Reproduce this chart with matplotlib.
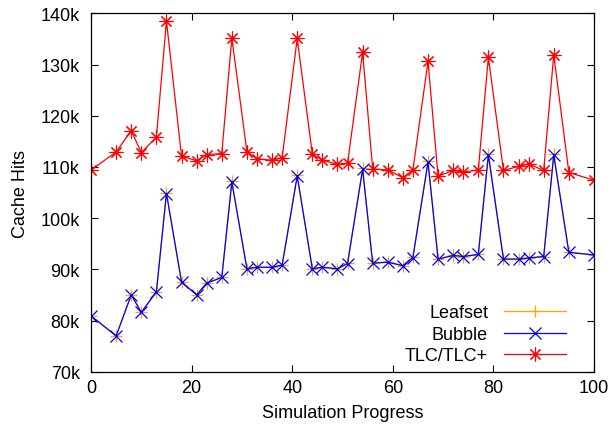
import matplotlib
matplotlib.use("Agg")
import matplotlib.pyplot as plt

plt.rcParams['font.family'] = ['Liberation Sans', 'DejaVu Sans']
plt.rcParams['font.size'] = 13

progress = [0, 5, 8, 10, 13, 15, 18, 21, 23, 26, 28, 31, 33, 36, 38, 41, 44, 46, 49, 51,
            54, 56, 59, 62, 64, 67, 69, 72, 74, 77, 79, 82, 85, 87, 90, 92, 95, 100]

leafset = [80.9, 77.0, 85.0, 81.6, 85.6, 105.0, 87.5, 85.0, 87.3, 88.4, 107.3, 90.1, 90.4, 90.4, 90.8,
           108.5, 90.1, 90.4, 90.1, 91.2, 109.7, 91.2, 91.4, 90.7, 92.5, 111.1, 92.0, 92.7, 92.5, 92.9,
           112.6, 92.0, 92.0, 92.2, 92.5, 112.6, 93.4, 92.8]
bubble = [80.9, 77.0, 85.0, 81.6, 85.6, 104.8, 87.5, 85.0, 87.3, 88.4, 107.0, 90.1, 90.4, 90.4, 90.8,
          108.2, 90.1, 90.4, 90.1, 91.1, 109.5, 91.2, 91.4, 90.7, 92.3, 110.9, 92.0, 92.7, 92.5, 92.9,
          112.3, 92.0, 92.0, 92.2, 92.5, 112.3, 93.3, 92.8]
tlc = [109.4, 112.9, 117.1, 112.8, 115.8, 138.5, 112.1, 111.2, 112.4, 112.6, 135.2, 112.9, 111.6, 111.3, 111.8,
       135.1, 112.5, 111.3, 110.5, 110.7, 132.4, 109.6, 109.4, 107.9, 109.4, 130.6, 108.2, 109.3, 109.0, 109.4,
       131.4, 109.3, 110.1, 110.6, 109.3, 131.9, 108.9, 107.4]

fig = plt.figure(figsize=(6.12, 4.31), dpi=100)
ax = fig.add_axes([91/612, 1 - 372.7/431, (594 - 91)/612, (372.7 - 14.3)/431])

ax.plot(progress, leafset, color='#ffa500', lw=0.9, marker='+', ms=9, mew=0.9, label='Leafset')
ax.plot(progress, bubble, color='#0000ff', lw=0.9, marker='x', ms=8, mew=0.9, label='Bubble')
ax.plot(progress, tlc, color='#ff0000', lw=0.9, marker=(8, 2, 0), ms=10, mew=0.8, label='TLC/TLC+')

ax.set_xlim(0, 100)
ax.set_ylim(70, 140)
ax.set_xticks([0, 20, 40, 60, 80, 100])
ax.set_yticks(range(70, 141, 10))
ax.set_yticklabels([f"{v}k" for v in range(70, 141, 10)])
ax.tick_params(direction='in', length=5, width=0.8, top=True, right=True, labelsize=13)
ax.tick_params(axis='y', pad=8)
ax.tick_params(axis='x', pad=5)
for s in ax.spines.values():
    s.set_linewidth(0.9)

ax.set_xlabel('Simulation Progress', fontsize=13, labelpad=6)
ax.set_ylabel('Cache Hits', fontsize=13, labelpad=8)

leg = ax.legend(loc='lower right', markerfirst=False, frameon=False, fontsize=13,
                handlelength=3.4, handletextpad=0.9, labelspacing=0.25,
                bbox_to_anchor=(0.976, -0.025))

fig.savefig('out.png', dpi=100)
